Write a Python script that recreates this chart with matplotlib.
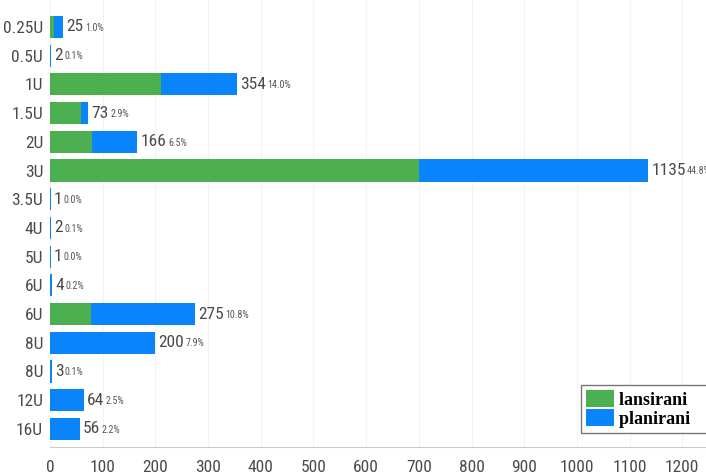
import matplotlib.pyplot as plt
import matplotlib.font_manager as fm
from matplotlib.patches import Patch

# Data
categories = ['0.25U', '0.5U', '1U', '1.5U', '2U', '3U', '3.5U', '4U', '5U',
              '6U', '6U', '8U', '8U', '12U', '16U']
lansirani = [7, 0, 211, 59, 80, 701, 0, 0, 0, 0, 78, 0, 0, 0, 0]
totals = [25, 2, 354, 73, 166, 1135, 1, 2, 1, 4, 275, 200, 3, 64, 56]
percents = ['1.0%', '0.1%', '14.0%', '2.9%', '6.5%', '44.8%', '0.0%', '0.1%',
            '0.0%', '0.2%', '10.8%', '7.9%', '0.1%', '2.5%', '2.2%']
xticks = list(range(0, 1300, 100))

planirani = [t - l for t, l in zip(totals, lansirani)]

green = '#4CAF50'
blue = '#0A84FA'
txt_color = '#4a4a4a'

# look for a condensed / narrow sans face, the reference uses one
cands = [f for f in fm.fontManager.ttflist
         if ('Condensed' in f.name or 'Narrow' in f.name or 'condensed' in str(f.stretch))
         and f.style == 'normal' and f.weight in (300, 400, 'normal', 'light')]


def rank(f):
    if 'Roboto' in f.name:
        return 0
    if 'Narrow' in f.name:
        return 1
    if 'Sans' in f.name:
        return 2
    return 3


cands.sort(key=lambda f: (rank(f), f.name))
if cands:
    base_fp = fm.FontProperties(fname=cands[0].fname)
    fs = 12.5
else:
    base_fp = fm.FontProperties(family='DejaVu Sans')
    fs = 10.5


def fp(size):
    p = base_fp.copy()
    p.set_size(size)
    return p


fig = plt.figure(figsize=(7.06, 4.74), dpi=100)
ax = fig.add_axes([50 / 706, 27 / 474, 1 - 50 / 706, 447 / 474])

ypos = list(range(len(categories)))
ax.barh(ypos, lansirani, height=0.77, color=green, zorder=2)
ax.barh(ypos, planirani, left=lansirani, height=0.77, color=blue, zorder=2)

# value + percentage labels
for y, t, p in zip(ypos, totals, percents):
    num = ax.text(t + 6, y, str(t), fontproperties=fp(fs), color=txt_color,
                  ha='left', va='center', zorder=3)
    ax.annotate(p, xy=(1, 0.12), xycoords=num, xytext=(1, 0),
                textcoords='offset points', fontproperties=fp(fs * 0.58),
                color='#555555', ha='left', va='bottom')

ax.set_yticks(ypos)
ax.set_yticklabels(categories)
ax.set_ylim(14.63, -0.94)

ax.set_xticks(xticks)
ax.set_xticklabels([str(x) for x in xticks])
ax.set_xlim(0, 1245)
for lab in ax.get_xticklabels() + ax.get_yticklabels():
    lab.set_fontproperties(fp(fs))
    lab.set_color(txt_color)
ax.tick_params(length=0)
ax.tick_params(axis='x', pad=9)
ax.tick_params(axis='y', pad=5)

ax.grid(axis='x', color='#f3f3f3', linewidth=0.8, zorder=0)
for s in ['top', 'right', 'left']:
    ax.spines[s].set_visible(False)
ax.spines['bottom'].set_color('#cccccc')

# legend box runs past the right edge in the reference
handles = [Patch(facecolor=green, label='lansirani    '),
           Patch(facecolor=blue, label='planirani    ')]
leg = ax.legend(handles=handles, loc='lower left', bbox_to_anchor=(531 / 656, 0.031),
                prop={'family': 'Liberation Serif', 'weight': 'bold', 'size': 13},
                fancybox=False, edgecolor='#777777', framealpha=1,
                handlelength=1.5, handleheight=1.1, handletextpad=0.3,
                labelspacing=0.0, borderpad=0.3, borderaxespad=0)
leg.get_frame().set_linewidth(1.0)

fig.savefig('out.png', dpi=100)
